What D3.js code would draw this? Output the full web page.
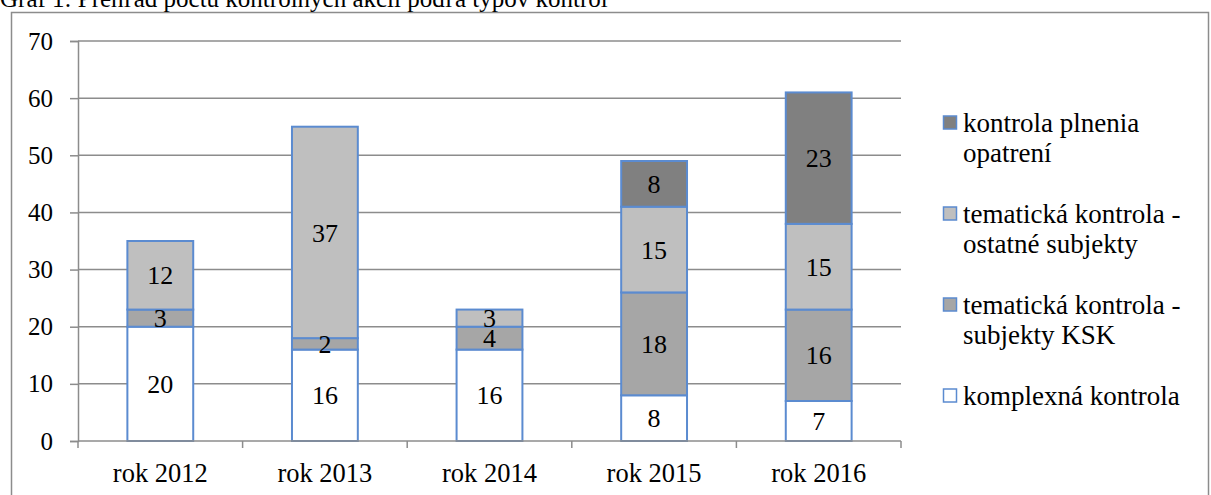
<!DOCTYPE html>
<html>
<head>
<meta charset="UTF-8" />
<style>
    body { margin: 0; background: #fff; }
    svg text { font-family: "Liberation Serif", "Times New Roman", serif; fill: #000; }
</style>
<script src="https://d3js.org/d3.v7.min.js"></script>
</head>
<body>
<svg width="1211" height="495"></svg>
<script>
// data
var years = ["rok 2012", "rok 2013", "rok 2014", "rok 2015", "rok 2016"];
var komplexna = [20, 16, 16, 8, 7];
var subjektyKSK = [3, 2, 4, 18, 16];
var ostatne = [12, 37, 3, 15, 15];
var plnenia = [0, 0, 0, 8, 23];
var yTicks = [0, 10, 20, 30, 40, 50, 60, 70];

var series = [
    { key: "komplexna", name: ["komplexná kontrola"], values: komplexna, color: "#ffffff" },
    { key: "ksk", name: ["tematická kontrola -", "subjekty KSK"], values: subjektyKSK, color: "#a6a6a6" },
    { key: "ostatne", name: ["tematická kontrola -", "ostatné subjekty"], values: ostatne, color: "#bfbfbf" },
    { key: "plnenia", name: ["kontrola plnenia", "opatrení"], values: plnenia, color: "#808080" }
];

var svg = d3.select("svg");

// outer frame + title (cut at top)
svg.append("rect")
   .attr("x", 11.5).attr("y", 12.5)
   .attr("width", 1197).attr("height", 500)
   .attr("fill", "none").attr("stroke", "#8c8c8c").attr("stroke-width", 1.5);

svg.append("text")
   .attr("x", 0).attr("y", 7)
   .style("font-size", "25px")
   .text("Graf 1: Prehľad počtu kontrolných akcií podľa typov kontrol");

var plotLeft = 78, plotRight = 901, plotTop = 41, plotBottom = 441;

var x = d3.scaleBand().domain(years).range([plotLeft, plotRight])
          .paddingInner(0.6).paddingOuter(0.3);
var y = d3.scaleLinear().domain([0, 70]).range([plotBottom, plotTop]);

// gridlines
svg.append("g").selectAll("line")
   .data(yTicks.slice(1))
   .enter().append("line")
   .attr("x1", plotLeft).attr("x2", plotRight)
   .attr("y1", function(d) { return y(d); })
   .attr("y2", function(d) { return y(d); })
   .attr("stroke", "#8c8c8c").attr("stroke-width", 1.5);

// y axis
var yAxis = svg.append("g")
   .attr("transform", "translate(" + plotLeft + ",0)")
   .call(d3.axisLeft(y).tickValues(yTicks).tickSize(8).tickPadding(17));
yAxis.select(".domain").attr("stroke", "#8c8c8c").attr("stroke-width", 1.5);
yAxis.selectAll(".tick line").attr("stroke", "#8c8c8c").attr("stroke-width", 1.5);
yAxis.selectAll("text")
   .attr("font-size", null).attr("font-family", null)
   .style("font-size", "25px");

// stacked bars
var rows = years.map(function(yr, i) {
    var r = { year: yr };
    series.forEach(function(s) { r[s.key] = s.values[i]; });
    return r;
});
var stack = d3.stack().keys(series.map(function(s) { return s.key; }));
var stacked = stack(rows);

var layers = svg.append("g").selectAll("g")
   .data(stacked)
   .enter().append("g")
   .attr("fill", function(d, i) { return series[i].color; });

layers.selectAll("rect")
   .data(function(d) { return d.filter(function(p) { return p[1] - p[0] > 0; }); })
   .enter().append("rect")
   .attr("x", function(d) { return x(d.data.year); })
   .attr("width", x.bandwidth())
   .attr("y", function(d) { return y(d[1]); })
   .attr("height", function(d) { return y(d[0]) - y(d[1]); })
   .attr("stroke", "#5b8bd0").attr("stroke-width", 2);

var labels = svg.append("g").selectAll("g")
   .data(stacked)
   .enter().append("g");

labels.selectAll("text")
   .data(function(d) { return d.filter(function(p) { return p[1] - p[0] > 0; }); })
   .enter().append("text")
   .attr("x", function(d) { return x(d.data.year) + x.bandwidth() / 2; })
   .attr("y", function(d) { return (y(d[0]) + y(d[1])) / 2; })
   .attr("dy", "0.35em")
   .attr("text-anchor", "middle")
   .style("font-size", "26px")
   .text(function(d) { return d[1] - d[0]; });

// x axis
var xAxis = svg.append("g")
   .attr("transform", "translate(0," + plotBottom + ")");
xAxis.append("line")
   .attr("x1", plotLeft).attr("x2", plotRight)
   .attr("stroke", "#8c8c8c").attr("stroke-width", 1.5);
var bounds = d3.range(years.length + 1).map(function(i) { return plotLeft + i * x.step(); });
xAxis.selectAll(".tk")
   .data(bounds)
   .enter().append("line")
   .attr("class", "tk")
   .attr("x1", function(d) { return d; }).attr("x2", function(d) { return d; })
   .attr("y1", 0).attr("y2", 7)
   .attr("stroke", "#8c8c8c").attr("stroke-width", 1.5);
xAxis.selectAll(".lbl")
   .data(years)
   .enter().append("text")
   .attr("class", "lbl")
   .attr("x", function(d) { return x(d) + x.bandwidth() / 2; })
   .attr("y", 41)
   .attr("text-anchor", "middle")
   .style("font-size", "26.5px")
   .text(function(d) { return d; });

// legend (top entry = last series)
var legend = svg.append("g").selectAll("g")
   .data(series.slice().reverse())
   .enter().append("g")
   .attr("transform", function(d, i) { return "translate(943," + (123 + i * 91) + ")"; });

legend.append("rect")
   .attr("x", 0.5).attr("y", -7)
   .attr("width", 13).attr("height", 13)
   .attr("fill", function(d) { return d.color; })
   .attr("stroke", "#5b8bd0").attr("stroke-width", 1.5);

legend.append("text")
   .style("font-size", "27px")
   .selectAll("tspan")
   .data(function(d) { return d.name; })
   .enter().append("tspan")
   .attr("x", 20)
   .attr("y", function(d, i) { return i * 30; })
   .attr("dy", "0.35em")
   .text(function(d) { return d; });
</script>
</body>
</html>
